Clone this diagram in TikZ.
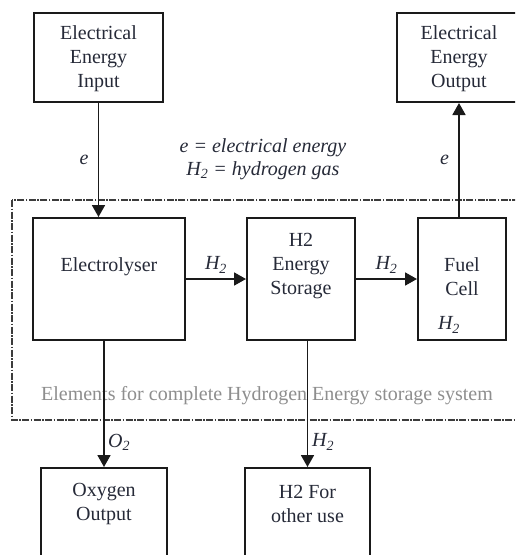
\documentclass[tikz,border=0pt]{standalone}
\usepackage{fontspec}
\setmainfont{Liberation Serif}
\usetikzlibrary{arrows.meta}
\definecolor{txt}{HTML}{262A38}
\definecolor{ln}{HTML}{1A1A1A}
\definecolor{gr}{HTML}{8E8E8E}
\begin{document}
\begin{tikzpicture}[x=1pt,y=-1pt,
  box/.style={draw=ln,line width=2pt,inner sep=0pt},
  lbl/.style={text=txt,font=\fontsize{20}{24}\selectfont,align=center,inner sep=0pt},
  itl/.style={text=txt,font=\fontsize{20}{23}\selectfont\itshape,align=center,inner sep=0pt},
  arr/.style={draw=ln,line width=1.8pt,-{Triangle[length=12pt,width=13pt]}},
  frame/.style={draw=ln!85,line width=2pt,dash pattern=on 7pt off 1.5pt on 1.5pt off 1.5pt}]
\path[use as bounding box] (0,0) rectangle (515,555);
\clip (0,0) rectangle (515,555);
\fill[white] (0,0) rectangle (515,555);

% frame
\draw[frame] (12,200) rectangle (540,420);
\node[lbl,text=gr] (frametxt) at (267,396) {Elements for complete Hydrogen Energy storage system};

% boxes
\node[box,minimum width=129pt,minimum height=89pt] (in) at (98.5,57.5) {};
\node[lbl] (intxt) at (98.5,59) {Electrical\\Energy\\Input};
\node[box,minimum width=124pt,minimum height=89pt] (out) at (459,57.5) {};
\node[lbl] (outtxt) at (459,59) {Electrical\\Energy\\Output};

\node[box,minimum width=152pt,minimum height=122pt] (el) at (109,279) {};
\node[lbl] (eltxt) at (109,267) {Electrolyser};
\node[box,minimum width=108pt,minimum height=122pt] (st) at (301,279) {};
\node[lbl] (sttxt) at (301,266) {H2\\Energy\\Storage};
\node[box,minimum width=88pt,minimum height=122pt] (fc) at (462,279) {};
\node[lbl] (fctxt) at (462,277) {Fuel\\Cell};
\node[itl] (fch2) at (449,325) {H\textsubscript{2}};

\node[box,minimum width=126pt,minimum height=132pt] (ox) at (104,534) {};
\node[lbl] (oxtxt) at (104,504) {Oxygen\\Output};
\node[box,minimum width=125pt,minimum height=132pt] (ho) at (307.5,534) {};
\node[lbl] (hotxt) at (307.5,504) {H2 For\\other use};

% legend
\node[itl] (legend) at (263,159) {e = electrical energy\\H\textsubscript{2} = hydrogen gas};

% connectors
\draw[arr] (in.south) -- node[itl,left=9pt] (le) {e} (in.south |- el.north);
\draw[arr] (out.south |- fc.north) -- node[itl,left=9pt] (lo) {e} (out.south);
\draw[arr] (el.east) -- node[itl,above=5pt] (lh1) {H\textsubscript{2}} (st.west);
\draw[arr] (st.east) -- node[itl,above=5pt] (lh2) {H\textsubscript{2}} (fc.west);
\draw[arr] (el.south -| ox.north) -- (ox.north);
\draw[arr] (st.south -| ho.north) -- (ho.north);
\node[itl,anchor=west] (lo2) at (108,442) {O\textsubscript{2}};
\node[itl,anchor=west] (lh3) at (312,442) {H\textsubscript{2}};
\end{tikzpicture}
\end{document}
